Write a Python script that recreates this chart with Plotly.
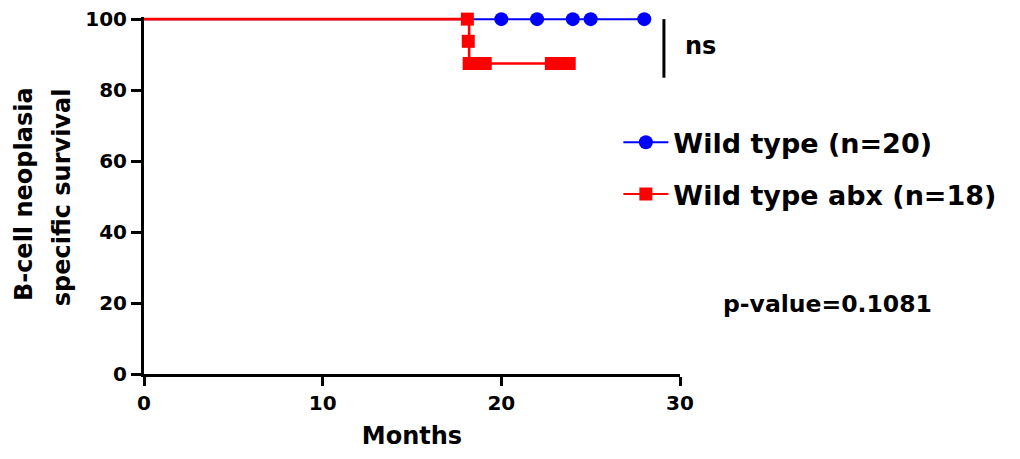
import plotly.graph_objects as go

# Kaplan-Meier curves (months, % survival)
wt_curve_x = [0, 28]
wt_curve_y = [100, 100]
wt_censor_x = [20, 22, 24, 25, 28]
wt_censor_y = [100, 100, 100, 100, 100]

abx_curve_x = [0, 18.2, 18.2, 18.2, 18.2, 23.8]
abx_curve_y = [100, 100, 93.75, 93.75, 87.5, 87.5]
abx_censor_x = [18.1, 18.15, 18.2, 18.5, 18.8, 19.1, 22.8, 23.3, 23.8]
abx_censor_y = [100, 93.75, 87.5, 87.5, 87.5, 87.5, 87.5, 87.5, 87.5]

x_ticks = [0, 10, 20, 30]
y_ticks = [0, 20, 40, 60, 80, 100]

BLUE = "#0000FF"
RED = "#FF0000"
FONT = "DejaVu Sans, Liberation Sans, Arial, sans-serif"

fig = go.Figure()

# Wild type: line plus censor marks
fig.add_trace(go.Scatter(x=wt_curve_x, y=wt_curve_y, mode="lines",
                         line=dict(color=BLUE, width=2), showlegend=False,
                         cliponaxis=False, hoverinfo="skip"))
fig.add_trace(go.Scatter(x=wt_censor_x, y=wt_censor_y, mode="markers",
                         marker=dict(color=BLUE, symbol="circle", size=14),
                         showlegend=False, cliponaxis=False))

# Wild type abx: step line plus censor marks (drawn on top of wild type)
fig.add_trace(go.Scatter(x=abx_curve_x, y=abx_curve_y, mode="lines",
                         line=dict(color=RED, width=2.6), showlegend=False,
                         cliponaxis=False, hoverinfo="skip"))
fig.add_trace(go.Scatter(x=abx_censor_x, y=abx_censor_y, mode="markers",
                         marker=dict(color=RED, symbol="square", size=13),
                         showlegend=False, cliponaxis=False))

# Legend entries (one legend per entry for spacing)
fig.add_trace(go.Scatter(x=[None], y=[None], mode="lines+markers",
                         name="Wild type (n=20)",
                         line=dict(color=BLUE, width=2),
                         marker=dict(color=BLUE, symbol="circle", size=14),
                         legend="legend"))
fig.add_trace(go.Scatter(x=[None], y=[None], mode="lines+markers",
                         name="Wild type abx (n=18)",
                         line=dict(color=RED, width=2),
                         marker=dict(color=RED, symbol="square", size=13),
                         legend="legend2"))

legend_common = dict(font=dict(family=FONT, size=27, color="black", weight="bold"),
                     bgcolor="rgba(0,0,0,0)", xanchor="left", yanchor="middle",
                     itemwidth=45)

# Significance bracket
fig.add_shape(type="line", xref="x", yref="y", x0=29.1, x1=29.1, y0=100, y1=83.5,
              line=dict(color="black", width=3))

fig.update_layout(
    width=1020, height=459,
    margin=dict(l=144, r=340, t=17, b=85, autoexpand=False),
    paper_bgcolor="white", plot_bgcolor="white",
    font=dict(family=FONT, color="black"),
    legend=dict(x=0.885, y=0.648, **legend_common),
    legend2=dict(x=0.885, y=0.503, **legend_common),
    xaxis=dict(range=[0, 30], tickvals=x_ticks, showgrid=False, zeroline=False,
               automargin=False,
               showline=True, linecolor="black", linewidth=3,
               ticks="outside", ticklen=9, tickwidth=3, tickcolor="black",
               tickfont=dict(family=FONT, size=20, weight="bold"),
               title=dict(text="Months", standoff=14,
                          font=dict(family=FONT, size=24, weight="bold"))),
    # small headroom so the curves at 100% are not cut by the plot edge
    yaxis=dict(range=[0, 100.6], tickvals=y_ticks, showgrid=False, zeroline=False,
               automargin=False,
               showline=True, linecolor="black", linewidth=3,
               ticks="outside", ticklen=10, tickwidth=3, tickcolor="black",
               tickfont=dict(family=FONT, size=20, weight="bold")),
    annotations=[
        dict(text="B-cell neoplasia", xref="paper", yref="paper", x=-0.225, y=0.505,
             textangle=-90, xanchor="center", yanchor="middle", showarrow=False,
             font=dict(family=FONT, size=24, weight="bold")),
        dict(text="specific survival", xref="paper", yref="paper", x=-0.153, y=0.495,
             textangle=-90, xanchor="center", yanchor="middle", showarrow=False,
             font=dict(family=FONT, size=24, weight="bold")),
        dict(text="ns", xref="paper", yref="paper", x=1.005, y=0.92, xanchor="left",
             yanchor="middle", showarrow=False,
             font=dict(family=FONT, size=24, weight="bold")),
        dict(text="p-value=0.1081", xref="paper", yref="paper", x=1.076, y=0.196,
             xanchor="left", yanchor="middle", showarrow=False,
             font=dict(family=FONT, size=23.5, weight="bold")),
    ],
)

fig.write_html("out.html")
